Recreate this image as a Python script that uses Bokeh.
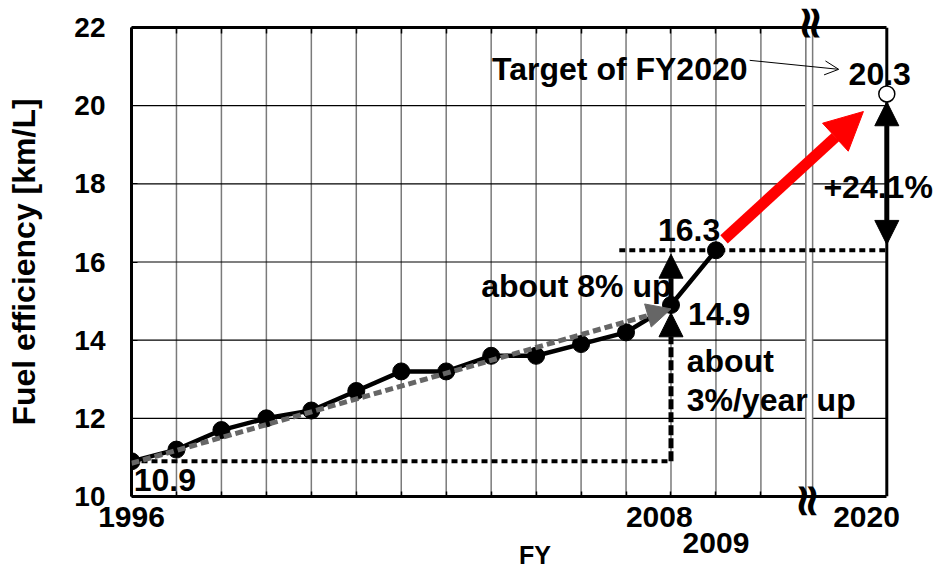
from bokeh.plotting import figure
from bokeh.models import (Range1d, FixedTicker, LinearAxis, Label, Arrow,
                          NormalHead, OpenHead)
from bokeh.embed import file_html
from bokeh.resources import INLINE

# ---------------- data ----------------
years = [1996, 1997, 1998, 1999, 2000, 2001, 2002, 2003, 2004, 2005, 2006, 2007, 2008, 2009]
fuel = [10.9, 11.2, 11.7, 12.0, 12.2, 12.7, 13.2, 13.2, 13.6, 13.6, 13.9, 14.2, 14.9, 16.3]
target_year = 2020
target_value = 20.3
y_ticks = [10, 12, 14, 16, 18, 20, 22]
grid_years = list(range(1997, 2012))
tick_years = list(range(1996, 2012))
x_label_row1 = ["1996", "2008", "2020"]
x_label_row2 = ["2009"]

# axis break: years after 2011 are compressed
BREAK = 2011
def xpos(year):
    return year if year <= BREAK else BREAK + (year - BREAK) * 0.2

X_END = xpos(target_year)          # right border of the chart box
FONT = "Liberation Sans"

p = figure(width=938, height=573, x_range=Range1d(1996, 2013.95), y_range=Range1d(10, 22),
           output_backend="svg", toolbar_location=None,
           min_border_left=131, min_border_right=0, min_border_top=26, min_border_bottom=77)
p.xgrid.visible = False
p.ygrid.visible = False
p.outline_line_color = None
p.background_fill_color = "white"

def blank(ticks):
    d = {}
    for t in ticks:
        d[float(t)] = ""
    return d

# ---------------- axes ----------------
xa = p.xaxis[0]
xa.ticker = FixedTicker(ticks=tick_years)
xa.bounds = (1996, X_END)
xa.major_tick_in = 5
xa.major_tick_out = 0
xa.major_tick_line_width = 1.5
xa.minor_tick_line_color = None
xa.major_label_overrides = blank(tick_years)
xa.major_label_text_font_size = "1px"
xa.major_label_standoff = 0
xa.axis_line_width = 3

brk = BREAK + 0.075
wave_bot = LinearAxis(ticker=FixedTicker(ticks=[brk]), axis_line_color=None,
                      major_tick_line_color=None, minor_tick_line_color=None,
                      major_label_overrides={brk: "≈"}, major_label_orientation="vertical",
                      major_label_text_font="DejaVu Sans", major_label_text_font_style="bold",
                      major_label_text_font_size="46px", major_label_text_color="black",
                      major_label_standoff=-21)
p.add_layout(wave_bot, "below")

row1_pos = [1996.0, 2007.74, 2012.35]
row1 = LinearAxis(ticker=FixedTicker(ticks=row1_pos), axis_line_color=None,
                  major_tick_line_color=None, minor_tick_line_color=None,
                  major_label_overrides={k: v for k, v in zip(row1_pos, x_label_row1)},
                  major_label_text_font=FONT, major_label_text_font_style="bold",
                  major_label_text_font_size="30px", major_label_text_color="black",
                  major_label_standoff=-23)
p.add_layout(row1, "below")

row2_pos = [2009.0]
row2 = LinearAxis(ticker=FixedTicker(ticks=row2_pos), axis_line_color=None,
                  major_tick_line_color=None, minor_tick_line_color=None,
                  major_label_overrides={k: v for k, v in zip(row2_pos, x_label_row2)},
                  major_label_text_font=FONT, major_label_text_font_style="bold",
                  major_label_text_font_size="30px", major_label_text_color="black",
                  major_label_standoff=-3,
                  axis_label="FY", axis_label_text_font=FONT, axis_label_text_font_style="bold",
                  axis_label_text_font_size="25px", axis_label_text_color="black",
                  axis_label_standoff=-15)
p.add_layout(row2, "below")

top = LinearAxis(ticker=FixedTicker(ticks=tick_years), bounds=(1996, X_END),
                 major_tick_in=6, major_tick_out=0, major_tick_line_width=1.5,
                 minor_tick_line_color=None, major_label_overrides=blank(tick_years),
                 major_label_text_font_size="1px", major_label_standoff=0, axis_line_width=3)
p.add_layout(top, "above")
wave_top = LinearAxis(ticker=FixedTicker(ticks=[brk]), axis_line_color=None,
                      major_tick_line_color=None, minor_tick_line_color=None,
                      major_label_overrides={brk: "≈"}, major_label_orientation="vertical",
                      major_label_text_font="DejaVu Sans", major_label_text_font_style="bold",
                      major_label_text_font_size="46px", major_label_text_color="black",
                      major_label_standoff=-21)
p.add_layout(wave_top, "above")

ya = p.yaxis[0]
ya.ticker = FixedTicker(ticks=y_ticks)
ya.bounds = (10, 22)
ya.major_tick_in = 6
ya.major_tick_out = 0
ya.minor_tick_line_color = None
ya.axis_line_width = 3
ya.major_label_text_font = FONT
ya.major_label_text_font_style = "bold"
ya.major_label_text_font_size = "28px"
ya.major_label_text_color = "black"
ya.major_label_standoff = 26
ya.axis_label = "Fuel efficiency [km/L]"
ya.axis_label_text_font = FONT
ya.axis_label_text_font_style = "bold"
ya.axis_label_text_font_size = "32px"
ya.axis_label_text_color = "black"
ya.axis_label_standoff = 29

# ---------------- grid ----------------
p.segment(x0=grid_years, x1=grid_years, y0=10, y1=22, line_color="#7a7a7a", line_width=1.5)
hy = y_ticks[1:-1]
p.segment(x0=1996, x1=X_END, y0=hy, y1=hy, line_color="black", line_width=1.2)
# break gap
p.quad(left=BREAK, right=BREAK + 0.15, bottom=10, top=22, fill_color="white", line_color=None)
p.segment(x0=[BREAK, BREAK + 0.15], x1=[BREAK, BREAK + 0.15], y0=10, y1=22,
          line_color="#7a7a7a", line_width=1.5)
# right border
p.segment(x0=X_END, x1=X_END, y0=10, y1=22, line_color="black", line_width=3)

# ---------------- reference dashed lines ----------------
p.line(x=[years[0], 2008], y=[fuel[0], fuel[0]], line_color="black", line_width=4, line_dash="6 4")
p.line(x=[2006.85, X_END], y=[fuel[-1], fuel[-1]], line_color="black", line_width=4, line_dash="6 4")

# gray trend arrow
p.add_layout(Arrow(x_start=years[0], y_start=fuel[0] - 0.05, x_end=2008, y_end=fuel[12] - 0.1,
                   line_color="#666666", line_width=5, line_dash="8 4",
                   end=NormalHead(size=24, fill_color="#666666", line_color="#666666")))

# main series
p.line(x=years, y=fuel, line_color="black", line_width=4.5)
p.scatter(x=years, y=fuel, size=17, color="black")

# vertical arrows at 2008
p.add_layout(Arrow(x_start=2008, y_start=fuel[0], x_end=2008, y_end=14.7,
                   line_color="black", line_width=5, line_dash="10 3",
                   end=NormalHead(size=24, fill_color="black", line_color="black")))
p.add_layout(Arrow(x_start=2008, y_start=fuel[12], x_end=2008, y_end=16.2,
                   line_color="black", line_width=5,
                   end=NormalHead(size=24, fill_color="black", line_color="black")))

# red arrow
p.add_layout(Arrow(x_start=2009.18, y_start=16.58, x_end=2012.28, y_end=19.85,
                   line_color="red", line_width=11,
                   end=NormalHead(size=38, fill_color="red", line_color="red")))

# double arrow +24.1%
p.add_layout(Arrow(x_start=X_END, y_start=16.45, x_end=X_END, y_end=20.1,
                   line_color="black", line_width=5,
                   start=NormalHead(size=24, fill_color="black", line_color="black"),
                   end=NormalHead(size=24, fill_color="black", line_color="black")))

# target point
p.scatter(x=[xpos(target_year)], y=[target_value], size=16, fill_color="white",
          line_color="black", line_width=1.5)

# thin arrow from target text
p.add_layout(Arrow(x_start=2009.75, y_start=21.16, x_end=2011.73, y_end=20.93,
                   line_color="black", line_width=1,
                   end=OpenHead(size=14, line_width=1, line_color="black")))

# ---------------- texts ----------------
def lab(x, y, text, size="32px", align="left"):
    p.add_layout(Label(x=x, y=y, text=text, text_font=FONT, text_font_style="bold",
                       text_font_size=size, text_align=align, text_baseline="middle",
                       text_color="black"))

lab(2004.02, 20.93, "Target of FY2020")
lab(2011.95, 20.82, f"{target_value}")
lab(2007.71, 16.82, f"{fuel[-1]}")
lab(2003.78, 15.39, "about 8% up")
lab(2008.38, 14.67, f"{fuel[12]}")
lab(2008.35, 13.47, "about")
lab(2008.35, 12.48, "3%/year up")
lab(1996.05, 10.41, f"{fuel[0]}")
lab(2011.39, 17.91, "+24.1%")

open("out.html", "w").write(file_html(p, INLINE))
